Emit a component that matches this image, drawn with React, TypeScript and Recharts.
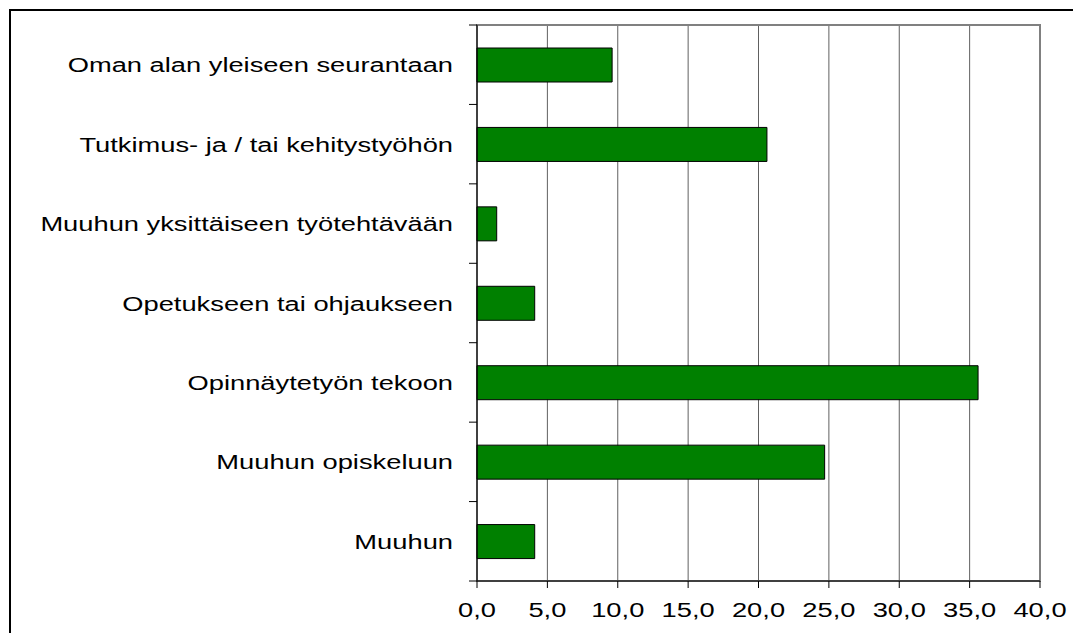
import React from 'react';
import {
  Bar,
  BarChart,
  CartesianGrid,
  ReferenceArea,
  XAxis,
  YAxis,
} from 'recharts';

const categories = [
  'Oman alan yleiseen seurantaan',
  'Tutkimus- ja / tai kehitystyöhön',
  'Muuhun yksittäiseen työtehtävään',
  'Opetukseen tai ohjaukseen',
  'Opinnäytetyön tekoon',
  'Muuhun opiskeluun',
  'Muuhun',
];
const values = [9.6, 20.6, 1.4, 4.1, 35.6, 24.7, 4.1];
const xTicks = [0, 5, 10, 15, 20, 25, 30, 35, 40];

const FONT = '"Liberation Sans", Arial, sans-serif';
const FONT_SIZE = 21;
const STRETCH = 1.3;
const Y_TICK = 8;
const Y_GAP = 16;

const fmt = (v: number) => v.toFixed(1).replace('.', ',');

const YTick = (props: any) => {
  const { x, y, payload, index } = props;
  const half = payload?.offset ?? 39.7;
  const axisX = x + Y_GAP + Y_TICK;
  return (
    <g>
      <line x1={axisX - Y_TICK} x2={axisX} y1={y - half} y2={y - half} stroke="#000" />
      {index === categories.length - 1 && (
        <line x1={axisX - Y_TICK} x2={axisX} y1={y + half} y2={y + half} stroke="#000" />
      )}
      <text
        transform={`translate(${x},${y + 7.5}) scale(${STRETCH},1)`}
        textAnchor="end"
        fontFamily={FONT}
        fontSize={FONT_SIZE}
        fill="#000"
      >
        {payload.value}
      </text>
    </g>
  );
};

const XTick = (props: any) => {
  const { x, y, payload } = props;
  return (
    <text
      transform={`translate(${x},${y + 27}) scale(${STRETCH},1)`}
      textAnchor="middle"
      fontFamily={FONT}
      fontSize={FONT_SIZE}
      fill="#000"
    >
      {fmt(payload.value)}
    </text>
  );
};

const App = () => {
  const data = categories.map((name, i) => ({ name, value: values[i] }));
  return (
    <div style={{ position: 'relative', width: 1065, height: 625, overflow: 'hidden', background: '#fff' }}>
      <div
        style={{
          position: 'absolute',
          left: 1,
          top: 1,
          width: 2000,
          height: 2000,
          borderLeft: '2px solid #000',
          borderTop: '2px solid #000',
        }}
      />
      <div style={{ position: 'absolute', left: 0, top: 0 }}>
        <BarChart
          width={1065}
          height={625}
          data={data}
          layout="vertical"
          margin={{ top: 17, right: 33, left: 0, bottom: 0 }}
        >
          <CartesianGrid horizontal={false} vertical stroke="#606060" />
          <ReferenceArea x1={0} x2={40} stroke="#808080" strokeWidth={2} fill="none" fillOpacity={0} ifOverflow="visible" />
          <XAxis
            type="number"
            domain={[0, 40]}
            ticks={xTicks}
            interval={0}
            height={52}
            tickSize={7}
            tick={<XTick />}
            axisLine={{ stroke: '#000' }}
            tickLine={{ stroke: '#000' }}
          />
          <YAxis
            type="category"
            dataKey="name"
            width={469}
            interval={0}
            tickSize={Y_TICK}
            tickMargin={Y_GAP}
            tickLine={false}
            tick={<YTick />}
            axisLine={{ stroke: '#000' }}
          />
          <Bar dataKey="value" fill="#008000" stroke="#000" strokeWidth={1} barSize={34} isAnimationActive={false} />
        </BarChart>
      </div>
    </div>
  );
};

export default App;
